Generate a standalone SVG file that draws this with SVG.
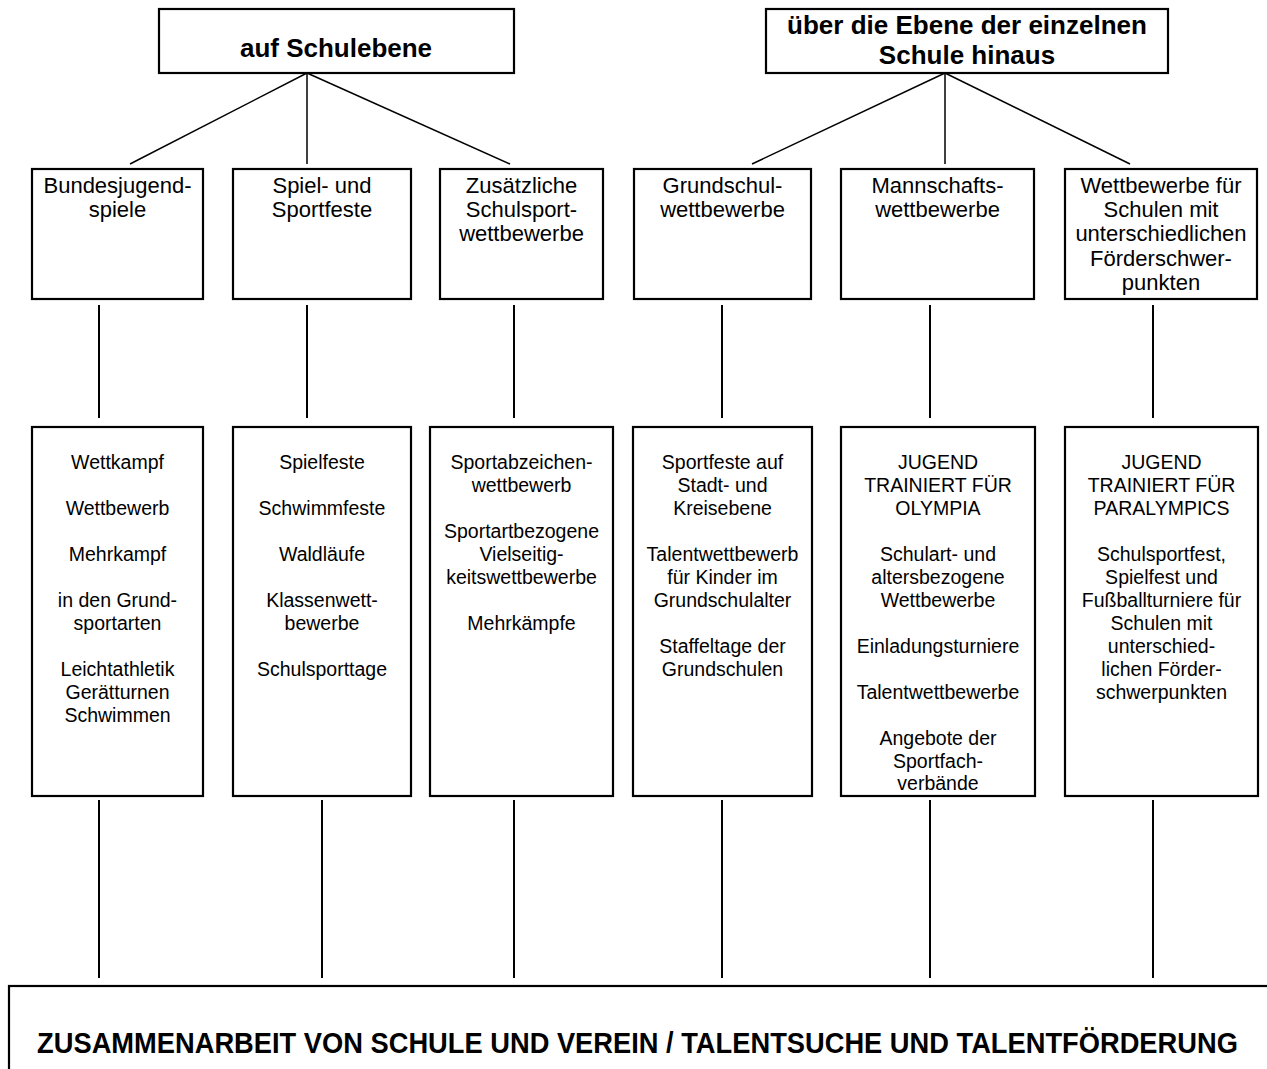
<svg xmlns="http://www.w3.org/2000/svg" width="1267" height="1069" viewBox="0 0 1267 1069">
<style>
.box{fill:#fff;stroke:#000;stroke-width:2.2}
.ln{stroke:#000;stroke-width:2;fill:none}
.dg{stroke:#000;stroke-width:1.5;fill:none}
.hd{font-family:"Liberation Sans",Arial,sans-serif;font-weight:bold;font-size:26px;text-anchor:middle;fill:#000}
.up{font-family:"Liberation Sans",Arial,sans-serif;font-size:22px;text-anchor:middle;fill:#000}
.lo{font-family:"Liberation Sans",Arial,sans-serif;font-size:20px;text-anchor:middle;fill:#000}
.bt{font-family:"Liberation Sans",Arial,sans-serif;font-weight:bold;font-size:29.5px;text-anchor:middle;fill:#000}
</style>
<rect width="1267" height="1069" fill="#fff"/>
<g id="connectors">
<line class="dg" x1="307" y1="73" x2="130" y2="164"/>
<line class="dg" x1="307" y1="73" x2="307" y2="164"/>
<line class="dg" x1="307" y1="73" x2="510" y2="164"/>
<line class="dg" x1="945" y1="73" x2="752" y2="164"/>
<line class="dg" x1="945" y1="73" x2="945" y2="164"/>
<line class="dg" x1="945" y1="73" x2="1130" y2="164"/>
<line class="ln" x1="99" y1="305" x2="99" y2="418"/>
<line class="ln" x1="307" y1="305" x2="307" y2="418"/>
<line class="ln" x1="514" y1="305" x2="514" y2="418"/>
<line class="ln" x1="722" y1="305" x2="722" y2="418"/>
<line class="ln" x1="930" y1="305" x2="930" y2="418"/>
<line class="ln" x1="1153" y1="305" x2="1153" y2="418"/>
<line class="ln" x1="99" y1="800" x2="99" y2="978"/>
<line class="ln" x1="322" y1="800" x2="322" y2="978"/>
<line class="ln" x1="514" y1="800" x2="514" y2="978"/>
<line class="ln" x1="722" y1="800" x2="722" y2="978"/>
<line class="ln" x1="930" y1="800" x2="930" y2="978"/>
<line class="ln" x1="1153" y1="800" x2="1153" y2="978"/>
</g>
<g id="top-schule">
<rect class="box" x="159" y="9" width="355" height="64"/>
<text class="hd" x="336" y="57">auf Schulebene</text>
</g>
<g id="top-ueber">
<rect class="box" x="766" y="9" width="402" height="64"/>
<text class="hd" x="967" y="34">über die Ebene der einzelnen</text>
<text class="hd" x="967" y="64">Schule hinaus</text>
</g>
<g id="u1">
<rect class="box" x="32" y="169" width="171" height="130"/>
<text class="up" x="117.5" y="193">Bundesjugend-</text>
<text class="up" x="117.5" y="217">spiele</text>
</g>
<g id="u2">
<rect class="box" x="233" y="169" width="178" height="130"/>
<text class="up" x="322" y="193">Spiel- und</text>
<text class="up" x="322" y="217">Sportfeste</text>
</g>
<g id="u3">
<rect class="box" x="440" y="169" width="163" height="130"/>
<text class="up" x="521.5" y="193">Zusätzliche</text>
<text class="up" x="521.5" y="217">Schulsport-</text>
<text class="up" x="521.5" y="241">wettbewerbe</text>
</g>
<g id="u4">
<rect class="box" x="634" y="169" width="177" height="130"/>
<text class="up" x="722.5" y="193">Grundschul-</text>
<text class="up" x="722.5" y="217">wettbewerbe</text>
</g>
<g id="u5">
<rect class="box" x="841" y="169" width="193" height="130"/>
<text class="up" x="937.5" y="193">Mannschafts-</text>
<text class="up" x="937.5" y="217">wettbewerbe</text>
</g>
<g id="u6">
<rect class="box" x="1065" y="169" width="192" height="130"/>
<text class="up" x="1161" y="193">Wettbewerbe für</text>
<text class="up" x="1161" y="217.2">Schulen mit</text>
<text class="up" x="1161" y="241.4">unterschiedlichen</text>
<text class="up" x="1161" y="265.6">Förderschwer-</text>
<text class="up" x="1161" y="289.8">punkten</text>
</g>
<g id="l1">
<rect class="box" x="32" y="427" width="171" height="369"/>
<g transform="translate(117.5 0) scale(0.975 1) translate(-117.5 0)">
<text class="lo" x="117.5" y="469">Wettkampf</text>
<text class="lo" x="117.5" y="515">Wettbewerb</text>
<text class="lo" x="117.5" y="561">Mehrkampf</text>
<text class="lo" x="117.5" y="607">in den Grund-</text>
<text class="lo" x="117.5" y="630">sportarten</text>
<text class="lo" x="117.5" y="676">Leichtathletik</text>
<text class="lo" x="117.5" y="699">Gerätturnen</text>
<text class="lo" x="117.5" y="722">Schwimmen</text>
</g>
</g>
<g id="l2">
<rect class="box" x="233" y="427" width="178" height="369"/>
<g transform="translate(322 0) scale(0.975 1) translate(-322 0)">
<text class="lo" x="322" y="469">Spielfeste</text>
<text class="lo" x="322" y="515">Schwimmfeste</text>
<text class="lo" x="322" y="561">Waldläufe</text>
<text class="lo" x="322" y="607">Klassenwett-</text>
<text class="lo" x="322" y="630">bewerbe</text>
<text class="lo" x="322" y="676">Schulsporttage</text>
</g>
</g>
<g id="l3">
<rect class="box" x="430" y="427" width="183" height="369"/>
<g transform="translate(521.5 0) scale(0.975 1) translate(-521.5 0)">
<text class="lo" x="521.5" y="469">Sportabzeichen-</text>
<text class="lo" x="521.5" y="492">wettbewerb</text>
<text class="lo" x="521.5" y="538">Sportartbezogene</text>
<text class="lo" x="521.5" y="561">Vielseitig-</text>
<text class="lo" x="521.5" y="584">keitswettbewerbe</text>
<text class="lo" x="521.5" y="630">Mehrkämpfe</text>
</g>
</g>
<g id="l4">
<rect class="box" x="633" y="427" width="179" height="369"/>
<g transform="translate(722.5 0) scale(0.975 1) translate(-722.5 0)">
<text class="lo" x="722.5" y="469">Sportfeste auf</text>
<text class="lo" x="722.5" y="492">Stadt- und</text>
<text class="lo" x="722.5" y="515">Kreisebene</text>
<text class="lo" x="722.5" y="561">Talentwettbewerb</text>
<text class="lo" x="722.5" y="584">für Kinder im</text>
<text class="lo" x="722.5" y="607">Grundschulalter</text>
<text class="lo" x="722.5" y="653">Staffeltage der</text>
<text class="lo" x="722.5" y="676">Grundschulen</text>
</g>
</g>
<g id="l5">
<rect class="box" x="841" y="427" width="194" height="369"/>
<g transform="translate(938 0) scale(0.975 1) translate(-938 0)">
<text class="lo" x="938" y="469">JUGEND</text>
<text class="lo" x="938" y="492">TRAINIERT FÜR</text>
<text class="lo" x="938" y="515">OLYMPIA</text>
<text class="lo" x="938" y="561">Schulart- und</text>
<text class="lo" x="938" y="584">altersbezogene</text>
<text class="lo" x="938" y="607">Wettbewerbe</text>
<text class="lo" x="938" y="653">Einladungsturniere</text>
<text class="lo" x="938" y="699">Talentwettbewerbe</text>
<text class="lo" x="938" y="745">Angebote der</text>
<text class="lo" x="938" y="768">Sportfach-</text>
<text class="lo" x="938" y="790">verbände</text>
</g>
</g>
<g id="l6">
<rect class="box" x="1065" y="427" width="193" height="369"/>
<g transform="translate(1161.5 0) scale(0.975 1) translate(-1161.5 0)">
<text class="lo" x="1161.5" y="469">JUGEND</text>
<text class="lo" x="1161.5" y="492">TRAINIERT FÜR</text>
<text class="lo" x="1161.5" y="515">PARALYMPICS</text>
<text class="lo" x="1161.5" y="561">Schulsportfest,</text>
<text class="lo" x="1161.5" y="584">Spielfest und</text>
<text class="lo" x="1161.5" y="607">Fußballturniere für</text>
<text class="lo" x="1161.5" y="630">Schulen mit</text>
<text class="lo" x="1161.5" y="653">unterschied-</text>
<text class="lo" x="1161.5" y="676">lichen Förder-</text>
<text class="lo" x="1161.5" y="699">schwerpunkten</text>
</g>
</g>
<g id="bottom">
<rect class="box" x="9" y="986" width="1300" height="200" stroke-width="2.5"/>
<g transform="translate(637.5 0) scale(0.925 1) translate(-637.5 0)">
<text class="bt" x="637.5" y="1053">ZUSAMMENARBEIT VON SCHULE UND VEREIN / TALENTSUCHE UND TALENTFÖRDERUNG</text>
</g>
</g>
</svg>
